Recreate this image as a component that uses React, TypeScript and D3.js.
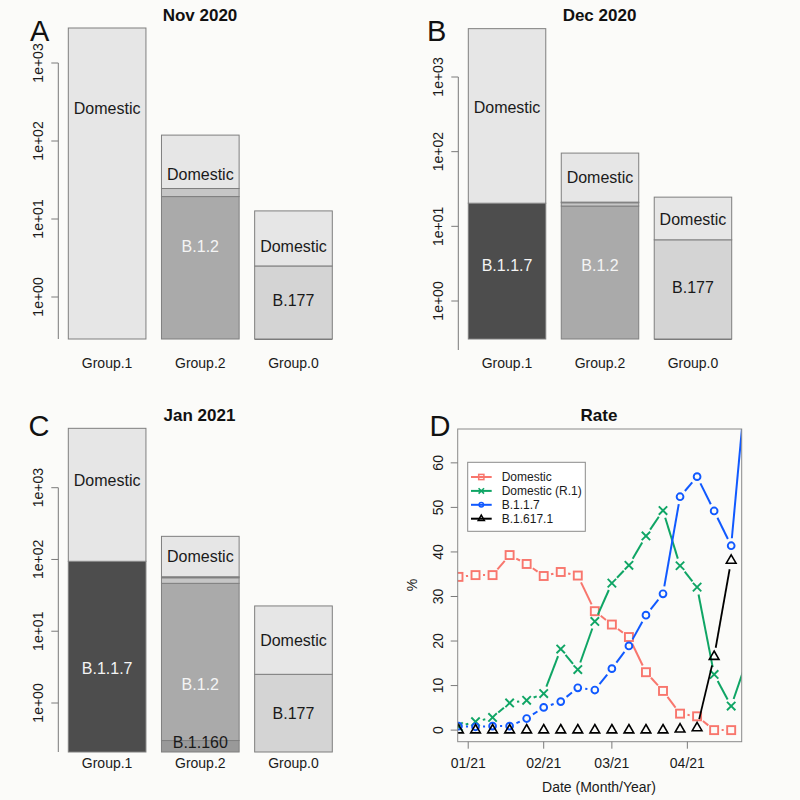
import React, { useEffect } from "react";
import * as d3 from "d3";

// ---------------- DATA ----------------
const groups = ["Group.1", "Group.2", "Group.0"];

// stacked segments, bottom to top (values per segment)
const novSegments = [
  { group: "Group.1", variant: "Domestic", value: 2810 },
  { group: "Group.2", variant: "B.1.2", value: 19.4 },
  { group: "Group.2", variant: "Other", value: 5.2 },
  { group: "Group.2", variant: "Domestic", value: 94.4 },
  { group: "Group.0", variant: "B.1.1.7", value: 0 },
  { group: "Group.0", variant: "B.177", value: 2.5 },
  { group: "Group.0", variant: "Domestic", value: 10.2 },
];
const decSegments = [
  { group: "Group.1", variant: "B.1.1.7", value: 20.4 },
  { group: "Group.1", variant: "Domestic", value: 4420 },
  { group: "Group.2", variant: "B.1.2", value: 18.7 },
  { group: "Group.2", variant: "Other", value: 2.0 },
  { group: "Group.2", variant: "B.1.1.7", value: 0.4 },
  { group: "Group.2", variant: "Domestic", value: 74.6 },
  { group: "Group.0", variant: "B.1.1.7", value: 0 },
  { group: "Group.0", variant: "B.177", value: 6.6 },
  { group: "Group.0", variant: "Domestic", value: 18.0 },
];
const janSegments = [
  { group: "Group.1", variant: "B.1.1.7", value: 94.3 },
  { group: "Group.1", variant: "Domestic", value: 6626 },
  { group: "Group.2", variant: "B.1.160", value: 0.3 },
  { group: "Group.2", variant: "B.1.2", value: 46.2 },
  { group: "Group.2", variant: "Other", value: 9.1 },
  { group: "Group.2", variant: "B.1.1.7", value: 1.8 },
  { group: "Group.2", variant: "Domestic", value: 152.6 },
  { group: "Group.0", variant: "B.177", value: 2.51 },
  { group: "Group.0", variant: "Domestic", value: 20.0 },
];

// segment labels (value on the log axis where the label sits)
const novLabels = [
  { group: "Group.1", variant: "Domestic", at: 266 },
  { group: "Group.2", variant: "Domestic", at: 37.5 },
  { group: "Group.2", variant: "B.1.2", at: 4.44 },
  { group: "Group.0", variant: "Domestic", at: 4.53 },
  { group: "Group.0", variant: "B.177", at: 0.894 },
];
const decLabels = [
  { group: "Group.1", variant: "Domestic", at: 390 },
  { group: "Group.1", variant: "B.1.1.7", at: 2.99 },
  { group: "Group.2", variant: "Domestic", at: 46 },
  { group: "Group.2", variant: "B.1.2", at: 2.99 },
  { group: "Group.0", variant: "Domestic", at: 12.4 },
  { group: "Group.0", variant: "B.177", at: 1.53 },
];
const janLabels = [
  { group: "Group.1", variant: "Domestic", at: 1268 },
  { group: "Group.1", variant: "B.1.1.7", at: 3.09 },
  { group: "Group.2", variant: "Domestic", at: 111 },
  { group: "Group.2", variant: "B.1.2", at: 1.83 },
  { group: "Group.2", variant: "B.1.160", at: 0.282 },
  { group: "Group.0", variant: "Domestic", at: 7.48 },
  { group: "Group.0", variant: "B.177", at: 0.719 },
];

const logTicks = [1, 10, 100, 1000];

// Panel D: weekly rates (%)
const weeks = [
  "2020-12-28", "2021-01-04", "2021-01-11", "2021-01-18", "2021-01-25",
  "2021-02-01", "2021-02-08", "2021-02-15", "2021-02-22", "2021-03-01",
  "2021-03-08", "2021-03-15", "2021-03-22", "2021-03-29", "2021-04-05",
  "2021-04-12", "2021-04-19", "2021-04-26",
];
const domesticRate = [34.4, 34.8, 34.8, 39.3, 37.3, 34.6, 35.5, 34.7, 26.7, 23.7, 20.9, 13.0, 8.8, 3.7, 3.1, 0, 0, null];
const r1Rate = [0.8, 1.9, 2.85, 6.1, 6.7, 8.2, 18.2, 13.6, 24.4, 33.0, 37.0, 43.6, 49.3, 36.9, 32.1, 12.5, 5.4, 16.5];
const b117Rate = [0.9, 0.75, 0.9, 0.9, 2.6, 5.1, 6.4, 9.5, 9.0, 13.8, 18.9, 25.8, 30.6, 52.4, 56.9, 49.2, 41.4, 83];
const b16171Rate = [0, 0, 0, 0, 0, 0, 0, 0, 0, 0, 0, 0, 0, 0.2, 0.5, 16.5, 38.1, null];
const seriesNames = ["Domestic", "Domestic (R.1)", "B.1.1.7", "B.1.617.1"];
const rateXlim = ["2021-01-01", "2021-04-19"];
const rateYlim = [0, 65];
const rateYTicks = [0, 10, 20, 30, 40, 50, 60];
const rateXTicks = ["2021-01-01", "2021-02-01", "2021-03-01", "2021-04-01"];

// ---------------- STYLE ----------------
const FONT = "'Liberation Sans', Arial, Helvetica, sans-serif";
const variantFill: Record<string, string> = {
  Domestic: "#e6e6e6",
  "B.1.1.7": "#4d4d4d",
  "B.1.2": "#aaaaaa",
  "B.177": "#d4d4d4",
  "B.1.160": "#999999",
  Other: "#c6c6c6",
};
const variantText: Record<string, string> = {
  Domestic: "#1a1a1a",
  "B.1.1.7": "#f4f4f4",
  "B.1.2": "#f4f4f4",
  "B.177": "#1a1a1a",
  "B.1.160": "#1a1a1a",
  Other: "#1a1a1a",
};
const seriesColors = ["#F8766D", "#0FA565", "#1059FF", "#000000"];
const seriesShapes = ["square", "x", "circle", "triangle"];
const seriesGaps = [7.5, 7.5, 7.5, 9];

const barPanels = [
  { letter: "A", letterX: 30, letterY: 40.7, title: "Nov 2020", titleX: 200, titleY: 20.7,
    segments: novSegments, labels: novLabels, x0: 68.3, x1: 332.3, axisX: 58.3,
    y1: 297, y1000: 63, barBottom: 339, axisBottom: 339, groupY: 368.3 },
  { letter: "B", letterX: 427, letterY: 40.7, title: "Dec 2020", titleX: 599.5, titleY: 20.7,
    segments: decSegments, labels: decLabels, x0: 468.3, x1: 731.7, axisX: 458.3,
    y1: 301, y1000: 77, barBottom: 339, axisBottom: 350, groupY: 368.3 },
  { letter: "C", letterX: 28.6, letterY: 435.5, title: "Jan 2021", titleX: 199.5, titleY: 420.7,
    segments: janSegments, labels: janLabels, x0: 68.3, x1: 332.3, axisX: 58.3,
    y1: 703, y1000: 487.7, barBottom: 752, axisBottom: 752, groupY: 768.3 },
];

function BarPanel({ p }: { p: any }) {
  const x = d3.scaleBand<string>().domain(groups).range([p.x0, p.x1]).paddingInner(1 / 6).paddingOuter(0);
  const y = d3.scaleLog().domain([1, 1000]).range([p.y1, p.y1000]);
  const base = y.invert(p.barBottom);
  const bw = x.bandwidth();
  const rects: any[] = [];
  groups.forEach((g) => {
    const segs = p.segments.filter((s: any) => s.group === g);
    const cum = d3.cumsum(segs.map((s: any) => s.value));
    segs.forEach((s: any, i: number) => {
      const lo = i === 0 ? base : Math.max(base, cum[i - 1]);
      const hi = Math.max(base, cum[i]);
      rects.push({ g, variant: s.variant, y0: y(lo), y1: y(hi) });
    });
  });
  const fmt = (d: number) => "1e+" + String(Math.round(Math.log10(d))).padStart(2, "0");
  return (
    <g fontFamily={FONT}>
      <text x={p.letterX} y={p.letterY} fontSize={29} fill="#111">{p.letter}</text>
      <text x={p.titleX} y={p.titleY} fontSize={17} fontWeight="bold" textAnchor="middle" fill="#111">{p.title}</text>
      {/* axis */}
      <line x1={p.axisX} x2={p.axisX} y1={y(1000)} y2={p.axisBottom} stroke="#7a7a7a" />
      {logTicks.map((t) => (
        <g key={t}>
          <line x1={p.axisX - 7} x2={p.axisX} y1={y(t)} y2={y(t)} stroke="#7a7a7a" />
          <text transform={`translate(${p.axisX - 15},${y(t)}) rotate(-90)`} textAnchor="middle" fontSize={14} fill="#1a1a1a">{fmt(t)}</text>
        </g>
      ))}
      {rects.map((r, i) =>
        Math.abs(r.y0 - r.y1) < 0.5 ? (
          <line key={i} x1={x(r.g)!} x2={x(r.g)! + bw} y1={r.y0} y2={r.y0} stroke={variantFill[r.variant]} strokeWidth={1.5} />
        ) : (
          <rect key={i} x={x(r.g)!} y={r.y1} width={bw} height={r.y0 - r.y1} fill={variantFill[r.variant]} stroke="#7f7f7f" strokeWidth={1} />
        )
      )}
      {p.labels.map((l: any, i: number) => (
        <text key={i} x={x(l.group)! + bw / 2} y={y(l.at) + 5.7} textAnchor="middle" fontSize={16} fill={variantText[l.variant]}>{l.variant}</text>
      ))}
      {groups.map((g) => (
        <text key={g} x={x(g)! + bw / 2} y={p.groupY} textAnchor="middle" fontSize={14} fill="#1a1a1a">{g}</text>
      ))}
    </g>
  );
}

function Marker({ shape, cx, cy, color, s = 1 }: any) {
  const sw = 1.9 * (s < 1 ? 0.8 : 1);
  if (shape === "square") {
    const h = 4 * s;
    return <rect x={cx - h} y={cy - h} width={2 * h} height={2 * h} fill="none" stroke={color} strokeWidth={sw} />;
  }
  if (shape === "circle") return <circle cx={cx} cy={cy} r={3.4 * s} fill="none" stroke={color} strokeWidth={sw} />;
  if (shape === "x") {
    const h = 4.2 * s;
    return (
      <g stroke={color} strokeWidth={sw}>
        <line x1={cx - h} y1={cy - h} x2={cx + h} y2={cy + h} />
        <line x1={cx - h} y1={cy + h} x2={cx + h} y2={cy - h} />
      </g>
    );
  }
  const r = 5.6 * s, xc = 4.85 * s, yc = 2.8 * s;
  return <polygon points={`${cx},${cy - r} ${cx + xc},${cy + yc} ${cx - xc},${cy + yc}`} fill="none" stroke={color} strokeWidth={1.6 * (s < 1 ? 0.9 : 1)} strokeLinejoin="miter" />;
}

function RatePanel() {
  const L = 457.7, R = 741.7, T = 429, B = 741.7;
  const parse = d3.utcParse("%Y-%m-%d");
  const xl = rateXlim.map((d) => +parse(d)!);
  const span = xl[1] - xl[0];
  const x = d3.scaleUtc().domain([new Date(xl[0] - 0.04 * span), new Date(xl[1] + 0.04 * span)]).range([L, R]);
  const ys = rateYlim[1] - rateYlim[0];
  const y = d3.scaleLinear().domain([rateYlim[0] - 0.04 * ys, rateYlim[1] + 0.04 * ys]).range([B, T]);
  const dates = weeks.map((d) => parse(d)!);
  const all = [domesticRate, r1Rate, b117Rate, b16171Rate];
  const fmt = d3.utcFormat("%m/%y");
  return (
    <g fontFamily={FONT}>
      <defs>
        <clipPath id="rateClip"><rect x={L} y={T} width={R - L} height={B - T} /></clipPath>
      </defs>
      <text x={429.5} y={435.5} fontSize={29} fill="#111">D</text>
      <text x={599} y={420.7} fontSize={17} fontWeight="bold" textAnchor="middle" fill="#111">Rate</text>
      <g clipPath="url(#rateClip)">
        {all.map((vals, si) => {
          const pts = vals.map((v, i) => (v == null ? null : [x(dates[i]), y(v)]));
          const segs: any[] = [];
          for (let i = 0; i < pts.length - 1; i++) {
            const a = pts[i], b = pts[i + 1];
            if (!a || !b) continue;
            const dx = b[0] - a[0], dy = b[1] - a[1];
            const d = Math.hypot(dx, dy);
            const g = seriesGaps[si];
            if (d - 2 * g < 1.5) continue;
            const ux = dx / d, uy = dy / d;
            segs.push(<line key={i} x1={a[0] + ux * g} y1={a[1] + uy * g} x2={b[0] - ux * g} y2={b[1] - uy * g} stroke={seriesColors[si]} strokeWidth={si === 3 ? 1.8 : 2} />);
          }
          return (
            <g key={si}>
              {segs}
              {pts.map((p, i) => p && <Marker key={i} shape={seriesShapes[si]} cx={p[0]} cy={p[1]} color={seriesColors[si]} />)}
            </g>
          );
        })}
      </g>
      <rect x={L} y={T} width={R - L} height={B - T} fill="none" stroke="#8a8a8a" />
      {rateYTicks.map((t) => (
        <g key={t}>
          <line x1={L - 7} x2={L} y1={y(t)} y2={y(t)} stroke="#7a7a7a" />
          <text transform={`translate(${L - 14.4},${y(t)}) rotate(-90)`} textAnchor="middle" fontSize={14} fill="#1a1a1a">{t}</text>
        </g>
      ))}
      {rateXTicks.map((t) => {
        const d = parse(t)!;
        return (
          <g key={t}>
            <line x1={x(d)} x2={x(d)} y1={B} y2={B + 7} stroke="#7a7a7a" />
            <text x={x(d)} y={768.3} textAnchor="middle" fontSize={14} fill="#1a1a1a">{fmt(d)}</text>
          </g>
        );
      })}
      <text x={599} y={792} textAnchor="middle" fontSize={14} fill="#1a1a1a">Date (Month/Year)</text>
      <text transform={`translate(417.3,585) rotate(-90)`} textAnchor="middle" fontSize={14} fill="#1a1a1a">%</text>
      {/* legend */}
      <rect x={467.7} y={462.3} width={117.6} height={69} fill="#ffffff" stroke="#8a8a8a" />
      {seriesNames.map((n, i) => {
        const ly = 477 + i * 13.9;
        return (
          <g key={n}>
            <line x1={471} x2={491.7} y1={ly} y2={ly} stroke={seriesColors[i]} strokeWidth={2} />
            <Marker shape={seriesShapes[i]} cx={481.3} cy={ly} color={seriesColors[i]} s={0.65} />
            <text x={501.7} y={ly + 4.3} fontSize={12} fill="#1a1a1a">{n}</text>
          </g>
        );
      })}
    </g>
  );
}

export default function App() {
  useEffect(() => {
    document.body.style.margin = "0";
  }, []);
  return (
    <svg width={800} height={800} style={{ position: "absolute", left: 0, top: 0, display: "block" }}>
      <rect width={800} height={800} fill="#fbfbf9" />
      {barPanels.map((p) => (
        <BarPanel key={p.letter} p={p} />
      ))}
      <RatePanel />
    </svg>
  );
}
